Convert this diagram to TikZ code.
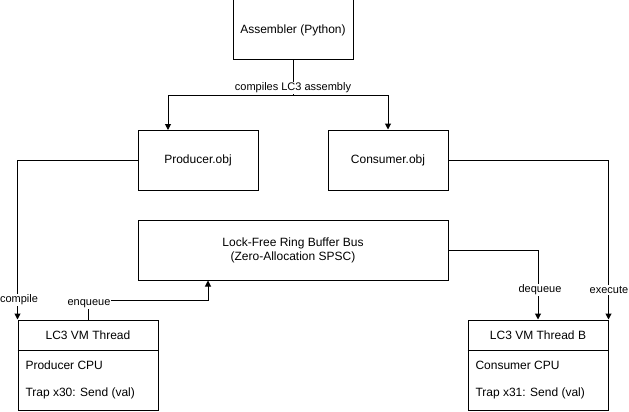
\documentclass[tikz,border=0pt]{standalone}
\usepackage{fontspec}
\setmainfont{Liberation Sans}
\usetikzlibrary{arrows.meta}

\tikzset{
  box/.style={draw, minimum width=120pt, minimum height=60pt, inner sep=0pt, font=\fontsize{12}{14}\selectfont},
  vmbox/.style={draw, minimum width=140pt, minimum height=90pt, inner sep=0pt},
  vmtext/.style={anchor=west, inner sep=0pt, font=\fontsize{12}{14}\selectfont},
  lbl/.style={fill=white, inner sep=1pt, font=\fontsize{11}{13}\selectfont},
  flow/.style={-{Triangle[width=6pt,length=6pt]}},
}

\begin{document}
\begin{tikzpicture}[x=1pt, y=-1pt, line width=1pt]
    \useasboundingbox (0,0) rectangle (629,412);

    % Les boites du haut
    \node[box] (asm) at (293,30) {Assembler (Python)};
    \node[box] (prodobj) at (198,160) {Producer.obj};
    \node[box] (consobj) at (388,160) {Consumer.obj};

    % Le bus au milieu
    \node[box, minimum width=310pt, align=center] (bus) at (293,250) {Lock-Free Ring Buffer Bus\\(Zero-Allocation SPSC)};

    % Les deux threads
    \node[vmbox] (vma) at (88,365) {};
    \draw (vma.west |- 0,350) -- (vma.east |- 0,350);
    \node[font=\fontsize{12}{14}\selectfont] (vmatitle) at (88,335) {LC3 VM Thread};
    \node[vmtext] (vmacpu) at (25,365) {Producer CPU};
    \node[vmtext] (vmatrap) at (25,393) {Trap x30: Send (val)};

    \node[vmbox] (vmb) at (538,365) {};
    \draw (vmb.west |- 0,350) -- (vmb.east |- 0,350);
    \node[font=\fontsize{12}{14}\selectfont] (vmbtitle) at (538,335) {LC3 VM Thread B};
    \node[vmtext] (vmbcpu) at (475,365) {Consumer CPU};
    \node[vmtext] (vmbtrap) at (475,393) {Trap x31: Send (val)};

    % Les fleches
    \coordinate (split) at (293,95);
    \draw[flow] (asm.south) -- (split) -| (168,130);
    \draw[flow] (split) -| (consobj.north);
    \node[lbl] (lblasm) at (293,88) {compiles LC3 assembly};

    \draw[flow] (prodobj.west) -| (vma.north west);
    \node[lbl] (lblcomp) at (19,300) {compile};

    \draw[flow] (consobj.east) -| (vmb.north east);
    \node[lbl] (lblexec) at (609,290) {execute};

    \draw[flow] (vma.north) |- (208,300) -- (bus.south -| 208,0);
    \node[lbl] (lblenq) at (89,304) {enqueue};

    \draw[flow] (bus.east) -| (vmb.north);
    \node[lbl] (lbldeq) at (540,290) {dequeue};
\end{tikzpicture}
\end{document}
